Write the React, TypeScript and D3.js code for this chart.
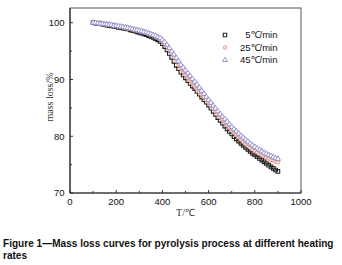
import React, { useEffect, useRef, useState } from "react";
import * as d3 from "d3";

const temps = [100,110,120,130,140,150,160,170,180,190,200,210,220,230,240,250,260,270,280,290,300,310,320,330,340,350,360,370,380,390,400,410,420,430,440,450,460,470,480,490,500,510,520,530,540,550,560,570,580,590,600,610,620,630,640,650,660,670,680,690,700,710,720,730,740,750,760,770,780,790,800,810,820,830,840,850,860,870,880,890,900];

const rate5 = [100.0,99.95,99.9,99.85,99.75,99.7,99.6,99.55,99.45,99.4,99.3,99.2,99.15,99.05,98.95,98.9,98.75,98.65,98.55,98.4,98.3,98.15,98.05,97.9,97.75,97.6,97.4,97.2,97.0,96.7,96.3,95.8,95.2,94.6,93.9,93.2,92.5,91.9,91.3,90.8,90.3,89.8,89.3,88.85,88.4,87.9,87.4,86.9,86.45,86.0,85.5,84.95,84.4,83.85,83.3,82.8,82.3,81.8,81.3,80.85,80.4,79.95,79.55,79.15,78.75,78.4,78.05,77.7,77.35,77.0,76.7,76.4,76.1,75.8,75.5,75.2,74.9,74.6,74.35,74.05,73.8];

const rate25 = [100.0,99.95,99.9,99.85,99.8,99.75,99.7,99.6,99.55,99.45,99.4,99.3,99.25,99.15,99.05,98.95,98.9,98.8,98.7,98.6,98.5,98.4,98.3,98.2,98.05,97.9,97.75,97.55,97.35,97.05,96.7,96.3,95.8,95.25,94.6,93.9,93.2,92.5,91.9,91.35,90.8,90.3,89.8,89.3,88.8,88.3,87.8,87.3,86.85,86.4,85.9,85.4,84.85,84.3,83.8,83.3,82.8,82.35,81.9,81.45,81.0,80.6,80.2,79.8,79.4,79.0,78.65,78.3,78.0,77.7,77.4,77.15,76.9,76.7,76.5,76.3,76.1,75.9,75.75,75.55,75.4];

const rate45 = [100.0,99.95,99.9,99.85,99.8,99.75,99.7,99.65,99.6,99.5,99.45,99.4,99.3,99.25,99.15,99.1,99.0,98.9,98.8,98.7,98.6,98.5,98.4,98.3,98.15,98.0,97.85,97.7,97.5,97.3,97.0,96.6,96.1,95.55,94.95,94.4,93.8,93.2,92.6,92.1,91.6,91.1,90.6,90.1,89.6,89.1,88.55,88.0,87.45,86.9,86.4,85.9,85.4,84.9,84.4,83.9,83.45,83.0,82.55,82.1,81.65,81.25,80.85,80.45,80.1,79.75,79.4,79.05,78.7,78.4,78.1,77.85,77.6,77.35,77.1,76.9,76.7,76.5,76.3,76.15,76.0];

const seriesNames = ["5℃/min", "25℃/min", "45℃/min"];
const xTicks = [0, 200, 400, 600, 800, 1000];
const xMinor = [100, 300, 500, 700, 900];
const yTicks = [70, 80, 90, 100];
const yMinor = [75, 85, 95];
const captionLines = ["Figure 1—Mass loss curves for pyrolysis process at different heating", "rates"];

const W = 342, H = 265;
const x = d3.scaleLinear().domain([0, 1000]).range([70, 301]);
const y = d3.scaleLinear().domain([70, 102.6]).range([193, 8]);

const colors = ["#222222", "#e58a70", "#8080c8"];
const shapes = [d3.symbolSquare, d3.symbolCircle, d3.symbolTriangle];
const sizes = [13, 11, 12];
const fills = ["none", "#fbe3dc", "#ffffff"];
const strokeW = [1.1, 0.8, 0.8];

function Marker({ i, cx, cy, k }: { i: number; cx: number; cy: number; k?: number }) {
  const p = d3.symbol().type(shapes[i]).size(sizes[i] * (k ?? 1))();
  return (
    <path d={p as string} transform={`translate(${cx},${cy})`} fill={fills[i]} stroke={colors[i]} strokeWidth={strokeW[i]} />
  );
}

export default function App() {
  const data = [rate5, rate25, rate45];
  const axisFont = "Arial, 'Liberation Sans', sans-serif";
  const capRef = useRef<SVGTextElement>(null);
  const [capScale, setCapScale] = useState(0.88);
  useEffect(() => {
    if (capRef.current) {
      const w = capRef.current.getComputedTextLength();
      if (w > 0) setCapScale(331 / w);
    }
  }, []);
  const capFont = "'Liberation Sans Narrow', 'Arial Narrow', Arial, sans-serif";
  return (
    <svg width={W} height={H} style={{ position: "absolute", left: 0, top: 0, background: "#fff" }}>
      <rect x={0} y={0} width={W} height={H} fill="#fff" />
      {/* frame */}
      <rect x={x(0)} y={y(102.6)} width={x(1000) - x(0)} height={y(70) - y(102.6)} fill="none" stroke="#555" strokeWidth={1} />
      <line x1={x(0)} x2={x(0)} y1={y(102.6)} y2={y(70)} stroke="#333" strokeWidth={1.2} />
      <line x1={x(0)} x2={x(1000)} y1={y(70)} y2={y(70)} stroke="#333" strokeWidth={1.2} />
      {/* ticks */}
      {xTicks.map((t) => (
        <g key={"xt" + t}>
          <line x1={x(t)} x2={x(t)} y1={y(70)} y2={y(70) - 3} stroke="#333" />
          <text x={x(t)} y={204.5} textAnchor="middle" fontFamily={axisFont} fontSize={9.5} fill="#111">{t}</text>
        </g>
      ))}
      {xMinor.map((t) => (
        <line key={"xm" + t} x1={x(t)} x2={x(t)} y1={y(70)} y2={y(70) - 2} stroke="#333" />
      ))}
      {yTicks.map((t) => (
        <g key={"yt" + t}>
          <line x1={x(0)} x2={x(0) + 3} y1={y(t)} y2={y(t)} stroke="#333" />
          <text x={64.5} y={y(t) + 3.4} textAnchor="end" fontFamily={axisFont} fontSize={9.5} fill="#111">{t}</text>
        </g>
      ))}
      {yMinor.map((t) => (
        <line key={"ym" + t} x1={x(0)} x2={x(0) + 2} y1={y(t)} y2={y(t)} stroke="#333" />
      ))}
      {/* axis titles */}
      <text x={185.5} y={216} textAnchor="middle" fontFamily="'Liberation Serif', 'Times New Roman', serif" fontSize={10} fill="#333">T/℃</text>
      <text transform={`translate(53,97) rotate(-90)`} textAnchor="middle" fontFamily="'Liberation Serif', 'Times New Roman', serif" fontSize={10} fill="#333">mass loss/%</text>
      {/* series */}
      {data.map((vals, i) => (
        <g key={"s" + i}>
          {temps.map((t, j) => (
            <Marker key={j} i={i} cx={x(t)} cy={y(vals[j])} />
          ))}
        </g>
      ))}
      {/* legend */}
      {seriesNames.map((n, i) => (
        <g key={"lg" + i}>
          <Marker i={i} cx={225} cy={35 + i * 12.5} k={0.9} />
          <text x={277.5} y={35 + i * 12.5 + 3.4} textAnchor="end" fontFamily={axisFont} fontSize={9.5} fill="#111">{n}</text>
        </g>
      ))}
      {/* caption */}
      <g transform={`translate(3,246.5) scale(${capScale},1)`}>
        <text ref={capRef} x={0} y={0} fontFamily={capFont} fontWeight="bold" fontSize={11} fill="#111">{captionLines[0]}</text>
      </g>
      <g transform={`translate(3,259) scale(${capScale},1)`}>
        <text x={0} y={0} fontFamily={capFont} fontWeight="bold" fontSize={11} fill="#111">{captionLines[1]}</text>
      </g>
    </svg>
  );
}
